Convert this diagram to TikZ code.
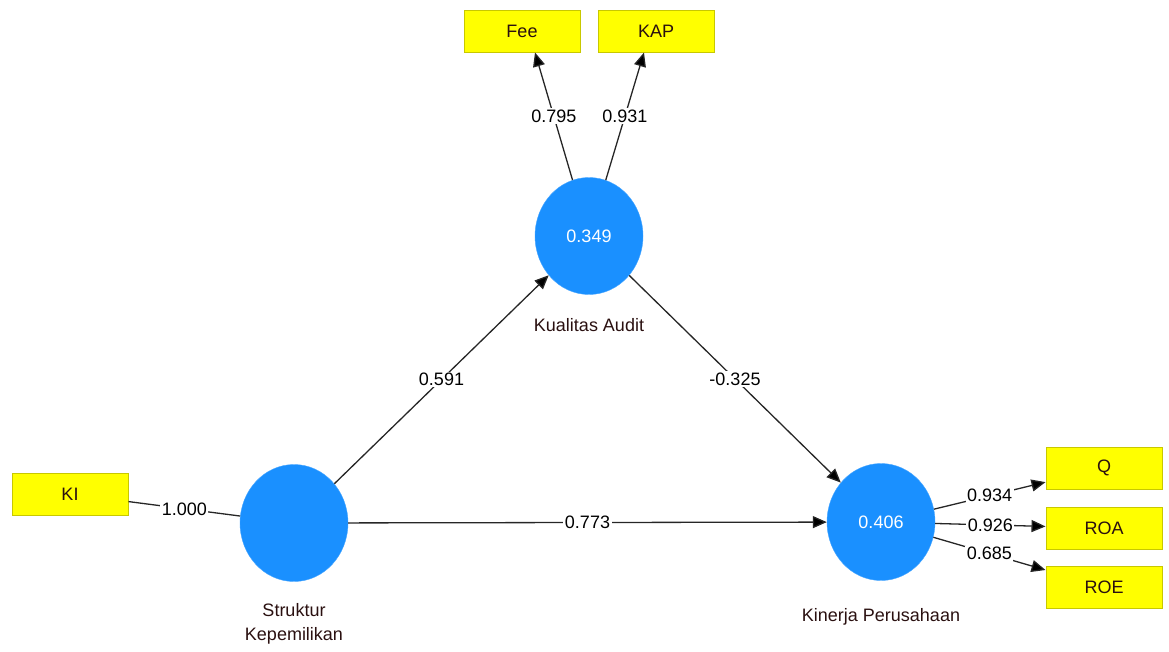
\documentclass[tikz,border=0pt]{standalone}
\usepackage{fontspec}
\setmainfont{Liberation Sans}
\usetikzlibrary{shapes.geometric,arrows.meta}
\definecolor{lvblue}{HTML}{1A90FF}
\definecolor{indyellow}{HTML}{FFFF00}
\definecolor{indborder}{HTML}{C8C800}
\definecolor{txtdark}{HTML}{2A1010}
\definecolor{edgegray}{HTML}{262626}
\tikzset{
  latent/.style={ellipse, fill=lvblue, draw=lvblue!80!white, minimum width=108pt, minimum height=117pt, text=white, inner sep=0pt, font=\fontsize{18}{20}\selectfont},
  indicator/.style={rectangle, fill=indyellow, draw=indborder, line width=1pt, minimum width=116pt, minimum height=42pt, text=txtdark, inner sep=0pt, font=\fontsize{18}{20}\selectfont},
  lvlabel/.style={text=txtdark, align=center, font=\fontsize{18}{24}\selectfont},
  conn/.style={draw=edgegray, line width=1.3pt},
  arr/.style={conn, -{Triangle[width=12pt,length=14pt,fill=black]}},
  coef/.style={fill=white, inner sep=1.5pt, text=black, font=\fontsize{18}{20}\selectfont}
}
\begin{document}
\begin{tikzpicture}[x=1pt,y=-1pt]
\useasboundingbox (0,0) rectangle (1169,651);
% latent variables
\node[latent] (KA) at (589,236) {0.349};
\node[latent] (SK) at (294,523) {};
\node[latent] (KP) at (881,522) {0.406};
\node[lvlabel] (KAl) at (589,325) {Kualitas Audit};
\node[lvlabel] (SKl) at (294,624) {Struktur\\Kepemilikan};
\node[lvlabel] (KPl) at (881,617) {Kinerja Perusahaan};
% indicators
\node[indicator] (Fee) at (522,31) {Fee};
\node[indicator] (KAP) at (656,31) {KAP};
\node[indicator] (KI) at (70,494) {KI};
\node[indicator] (Q) at (1104,468) {Q};
\node[indicator] (ROA) at (1104,528) {ROA};
\node[indicator] (ROE) at (1104,587) {ROE};
% connectors
\draw[arr] (KA) -- ([xshift=13pt]Fee.south) node[coef, midway] {0.795};
\draw[arr] (KA) -- ([xshift=-12pt]KAP.south) node[coef, midway] {0.931};
\draw[conn] (KI) -- (SK) node[coef, midway] {1.000};
\draw[arr] (SK) -- (KA) node[coef, midway] {0.591};
\draw[arr] (KA) -- (KP) node[coef, midway] {-0.325};
\draw[arr] (SK) -- (KP) node[coef, midway] {0.773};
\draw[arr] (KP) -- (Q) node[coef, midway] {0.934};
\draw[arr] (KP) -- (ROA) node[coef, midway] {0.926};
\draw[arr] (KP) -- (ROE) node[coef, midway] {0.685};
\end{tikzpicture}
\end{document}
